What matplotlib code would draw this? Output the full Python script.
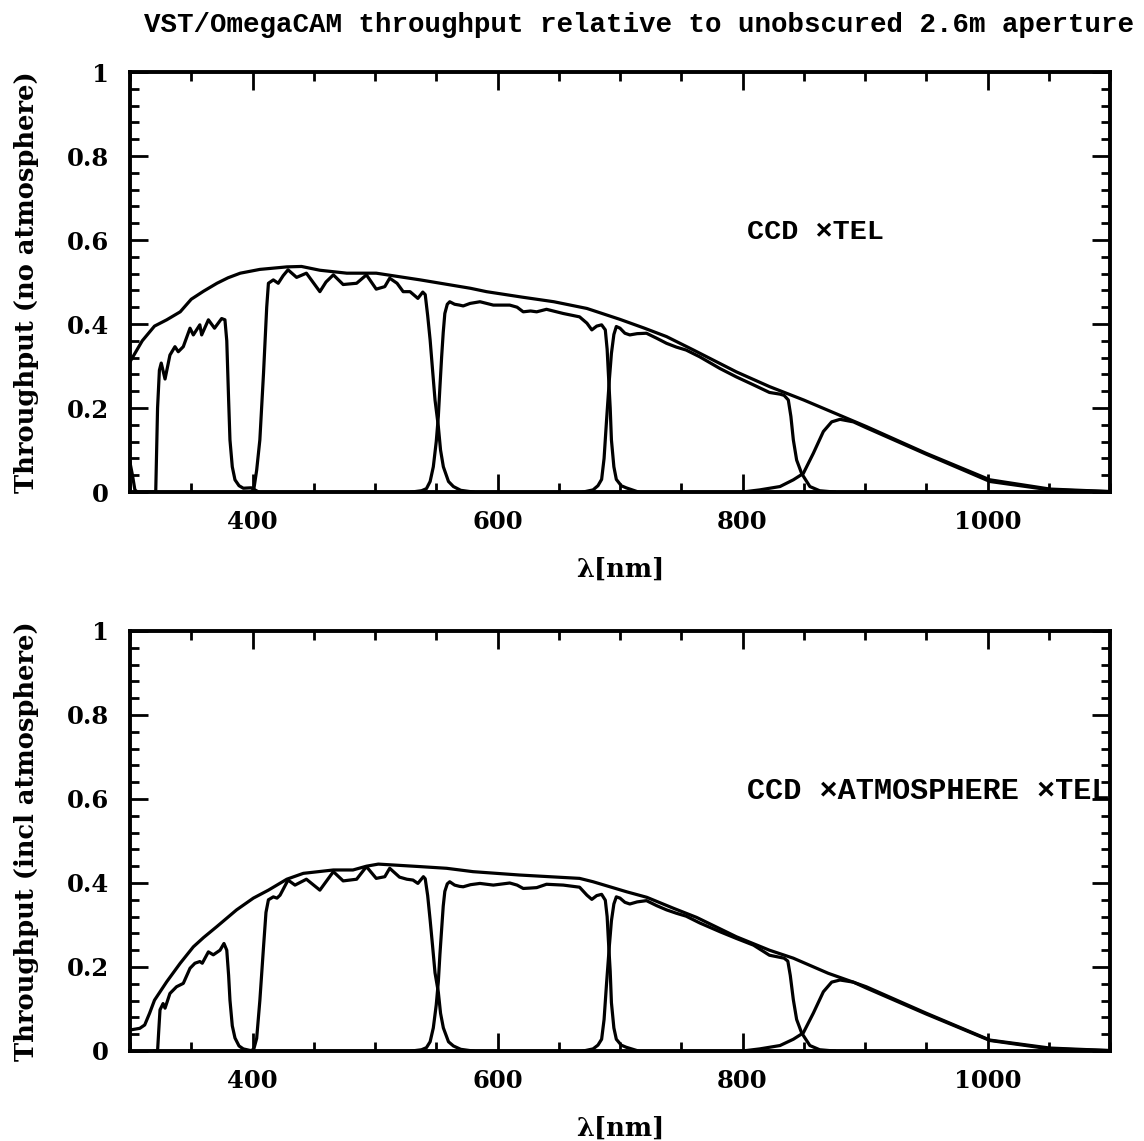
import matplotlib
matplotlib.use("Agg")
import matplotlib.pyplot as plt
from matplotlib.ticker import MultipleLocator

# ---------------- data ----------------
# Top panel: CCD x TEL
env_top_wl = [300, 310, 320, 330, 341, 350, 360, 371, 380, 390, 406, 428, 440, 455, 477, 501,
              537, 578, 591, 620, 646, 673, 700, 720, 738, 760, 795, 822, 850, 901, 950, 1002, 1051, 1100]
env_top = [0.31, 0.36, 0.395, 0.41, 0.429, 0.459, 0.478, 0.497, 0.51, 0.521, 0.530, 0.536, 0.537, 0.528, 0.521, 0.521,
           0.505, 0.485, 0.477, 0.464, 0.453, 0.437, 0.411, 0.39, 0.37, 0.338, 0.286, 0.251, 0.219, 0.156, 0.092, 0.029, 0.007, 0.001]

u_top_wl = [300, 302, 304, 306, 320, 321, 322.5, 324, 325.5, 328.6, 332.6, 336.7, 339.4, 343.5, 349, 351.7, 357,
            358.5, 364, 369, 374.8, 377.5, 379, 380.5, 381.6, 383.5, 385.7, 389, 392.5, 399, 405]
u_top = [0.07, 0.04, 0.005, 0.0, 0.0, 0.0, 0.2, 0.29, 0.307, 0.269, 0.326, 0.346, 0.334, 0.346, 0.39, 0.374, 0.398,
         0.374, 0.41, 0.39, 0.413, 0.41, 0.36, 0.22, 0.124, 0.06, 0.029, 0.015, 0.009, 0.01, 0.0]

g_top_wl = [398, 401, 403.4, 406, 409, 411.6, 413, 417, 421, 425, 429, 436, 444, 450, 455, 460, 466, 474, 485,
            493, 501, 508, 512, 518, 523, 528.6, 535, 539, 541, 543, 545, 547, 549, 551.7, 553.5, 555.8, 560, 564, 570, 580]
g_top = [0.0, 0.005, 0.052, 0.124, 0.283, 0.44, 0.497, 0.505, 0.497, 0.515, 0.529, 0.511, 0.521, 0.497, 0.477, 0.50,
         0.517, 0.494, 0.497, 0.517, 0.483, 0.489, 0.509, 0.497, 0.477, 0.477, 0.461, 0.476, 0.47, 0.42, 0.362, 0.29,
         0.219, 0.156, 0.1, 0.06, 0.025, 0.013, 0.004, 0.0]

r_top_wl = [530, 538, 542, 545, 547.6, 550, 551.7, 553, 554.4, 555.7, 557, 559, 561, 565, 569, 572, 577.6, 585.7,
            596.6, 610, 616, 621, 627, 632, 640, 653.7, 667, 673, 677, 681, 685, 688, 689.5, 690.5, 692, 693, 695,
            697, 701, 705, 715]
r_top = [0.0, 0.003, 0.008, 0.025, 0.06, 0.12, 0.18, 0.25, 0.322, 0.38, 0.425, 0.447, 0.453, 0.447, 0.445, 0.443,
         0.449, 0.453, 0.445, 0.445, 0.44, 0.429, 0.431, 0.429, 0.435, 0.425, 0.417, 0.402, 0.386, 0.395, 0.398,
         0.386, 0.34, 0.283, 0.2, 0.124, 0.06, 0.03, 0.015, 0.01, 0.0]

i_top_wl = [670, 678, 682, 685, 687, 689, 691.3, 693, 695, 697, 700, 704, 708, 714, 721.6, 730, 738, 746, 754, 765,
            781.6, 795, 809, 822, 830.6, 834, 837.4, 839.5, 841.5, 844.2, 848.3, 855, 863, 875]
i_top = [0.0, 0.005, 0.015, 0.03, 0.08, 0.17, 0.267, 0.33, 0.375, 0.394, 0.39, 0.378, 0.374, 0.377, 0.378, 0.366,
         0.354, 0.345, 0.338, 0.322, 0.294, 0.274, 0.255, 0.237, 0.233, 0.23, 0.219, 0.18, 0.124, 0.076, 0.044,
         0.013, 0.003, 0.0]

z_top_wl = [800, 814, 830.6, 841.5, 849.6, 857.8, 866, 872.8, 879.6, 890.5, 901, 950, 1002, 1051, 1100]
z_top = [0.0, 0.005, 0.013, 0.029, 0.044, 0.092, 0.144, 0.167, 0.173, 0.167, 0.153, 0.090, 0.025, 0.005, 0.001]

# Bottom panel: CCD x ATMOSPHERE x TEL
env_bot_wl = [300, 308, 312, 316, 320, 330, 341, 351.7, 360, 370.8, 387, 400.7, 413, 428, 441.5, 466, 482, 493,
              502.7, 537, 558.5, 580, 618, 667, 678, 705.5, 721.8, 743.5, 762.6, 795, 822, 841.5, 870, 901, 950,
              1002, 1051, 1100]
env_bot = [0.05, 0.054, 0.062, 0.09, 0.121, 0.165, 0.209, 0.248, 0.27, 0.296, 0.336, 0.364, 0.383, 0.409, 0.423,
           0.431, 0.431, 0.44, 0.445, 0.439, 0.435, 0.427, 0.419, 0.411, 0.403, 0.379, 0.366, 0.340, 0.318, 0.272,
           0.24, 0.221, 0.185, 0.153, 0.090, 0.026, 0.007, 0.001]

u_bot_wl = [320, 322.5, 323.5, 324.5, 327, 328.6, 332.6, 338, 343.5, 349, 353, 357, 359, 364, 368, 373.5, 376.7,
            379, 380.5, 381.6, 383.5, 385.7, 389, 392.5, 400]
u_bot = [0.0, 0.0, 0.05, 0.098, 0.113, 0.102, 0.137, 0.153, 0.161, 0.197, 0.209, 0.213, 0.209, 0.236, 0.229, 0.24,
         0.256, 0.24, 0.18, 0.121, 0.06, 0.031, 0.012, 0.005, 0.0]

g_bot_wl = [398, 401, 403.4, 406, 409, 411, 413, 417, 420, 422.5, 429, 434.7, 444, 455, 466, 474, 485, 493, 501,
            508, 512, 520, 526, 531, 535, 539.5, 541, 543, 545, 547, 549, 551.7, 553.5, 555.8, 560, 564, 570, 580]
g_bot = [0.0, 0.004, 0.03, 0.12, 0.248, 0.33, 0.36, 0.367, 0.364, 0.371, 0.407, 0.395, 0.409, 0.383, 0.427, 0.405,
         0.409, 0.439, 0.411, 0.415, 0.435, 0.414, 0.409, 0.407, 0.399, 0.415, 0.41, 0.37, 0.312, 0.25, 0.186, 0.14,
         0.09, 0.055, 0.022, 0.012, 0.004, 0.0]

r_bot_wl = [530, 538, 542, 545, 547.6, 550, 551.7, 553, 554.4, 555.7, 557, 559, 561, 565, 569, 572, 578, 585.7,
            596.6, 610, 616, 621, 627, 632, 640, 653.7, 667, 673, 677, 681, 685, 688, 689.5, 690.5, 692, 693, 695,
            697, 701, 705, 715]
r_bot = [0.0, 0.003, 0.008, 0.022, 0.055, 0.11, 0.165, 0.23, 0.29, 0.345, 0.38, 0.398, 0.403, 0.395, 0.392, 0.391,
         0.396, 0.399, 0.395, 0.400, 0.395, 0.387, 0.388, 0.389, 0.397, 0.395, 0.390, 0.371, 0.361, 0.37, 0.373,
         0.359, 0.32, 0.265, 0.19, 0.115, 0.055, 0.028, 0.014, 0.009, 0.0]

i_bot_wl = [670, 678, 682, 685, 687, 689, 691.3, 693, 695, 697, 700, 704, 708, 714, 721.6, 730, 738, 746, 754, 765,
            781.6, 795, 809, 822, 830.6, 834, 837, 839, 841.5, 844.2, 848.3, 855, 863, 875]
i_bot = [0.0, 0.005, 0.014, 0.028, 0.075, 0.16, 0.25, 0.31, 0.35, 0.367, 0.364, 0.354, 0.350, 0.355, 0.358, 0.346,
         0.336, 0.328, 0.321, 0.305, 0.284, 0.268, 0.252, 0.228, 0.223, 0.221, 0.214, 0.18, 0.122, 0.075, 0.043,
         0.013, 0.003, 0.0]

z_bot_wl = [800, 814, 830.6, 841.5, 849.6, 857.8, 866, 872.8, 879.6, 890.5, 901, 950, 1002, 1051, 1100]
z_bot = [0.0, 0.005, 0.013, 0.028, 0.043, 0.09, 0.141, 0.164, 0.169, 0.164, 0.15, 0.088, 0.025, 0.005, 0.001]

title = "VST/OmegaCAM throughput relative to unobscured 2.6m aperture"
top_label = "CCD \u00d7TEL"
bot_label = "CCD \u00d7ATMOSPHERE \u00d7TEL"
ylabel_top = "Throughput (no atmosphere)"
ylabel_bot = "Throughput (incl atmosphere)"
xlabel = "\u03bb[nm]"
xticks = [400, 600, 800, 1000]
yticks = [0, 0.2, 0.4, 0.6, 0.8, 1]
ytick_labels = ["0", "0.2", "0.4", "0.6", "0.8", "1"]

# ---------------- figure ----------------
W, H = 1144, 1141
fig = plt.figure(figsize=(W / 100, H / 100), dpi=100)

serif = {"family": "DejaVu Serif", "weight": "bold"}
mono = {"family": "Liberation Mono", "weight": "bold"}

def make_axes(top_px, bottom_px):
    left, right = 130 / W, 1110 / W
    b = 1 - bottom_px / H
    h = (bottom_px - top_px) / H
    return fig.add_axes([left, b, right - left, h])

panels = [
    (make_axes(72, 492), [(env_top_wl, env_top), (u_top_wl, u_top), (g_top_wl, g_top), (r_top_wl, r_top),
                          (i_top_wl, i_top), (z_top_wl, z_top)], top_label, ylabel_top, 20.5),
    (make_axes(631, 1051), [(env_bot_wl, env_bot), (u_bot_wl, u_bot), (g_bot_wl, g_bot), (r_bot_wl, r_bot),
                            (i_bot_wl, i_bot), (z_bot_wl, z_bot)], bot_label, ylabel_bot, 21.8),
]

for ax, curves, lab, ylab, lsize in panels:
    for wl, val in curves:
        ax.plot(wl, val, color="black", lw=2.3, solid_joinstyle="round")
    ax.set_xlim(300, 1100)
    ax.set_ylim(0, 1)
    ax.set_xticks(xticks)
    ax.set_yticks(yticks)
    ax.set_yticklabels(ytick_labels)
    ax.xaxis.set_minor_locator(MultipleLocator(50))
    ax.yaxis.set_minor_locator(MultipleLocator(0.04))
    ax.tick_params(which="both", direction="in", top=True, right=True, width=2.0, color="black")
    ax.tick_params(which="major", length=13, labelsize=17.5, pad=13)
    ax.tick_params(which="minor", length=6.5)
    ax.tick_params(axis="y", which="major", pad=15)
    for t in ax.get_xticklabels() + ax.get_yticklabels():
        t.set_fontfamily("DejaVu Serif")
        t.set_fontweight("bold")
    for s in ax.spines.values():
        s.set_linewidth(2.8)
    ax.set_xlabel(xlabel, fontsize=18.5, labelpad=16, **serif)
    ax.set_ylabel(ylab, fontsize=18.5, labelpad=20, **serif)
    ax.text(804, 0.62, lab, fontsize=lsize, ha="left", va="center", **mono)

fig.text(639 / W, 1 - 25 / H, title, fontsize=19.8, ha="center", va="center", **mono)

fig.savefig("out.png", dpi=100)
